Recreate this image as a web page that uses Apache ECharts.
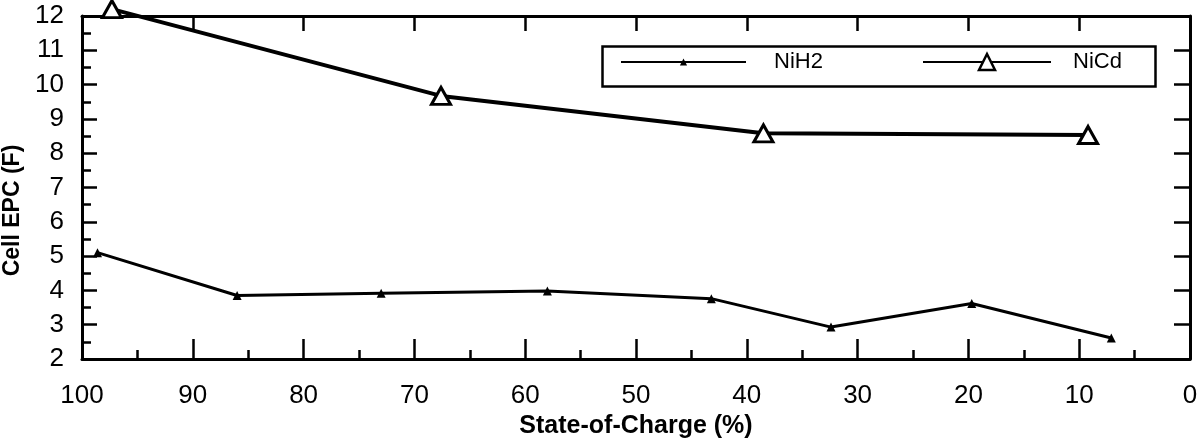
<!DOCTYPE html>
<html>
<head>
<meta charset="utf-8">
<script src="https://cdn.jsdelivr.net/npm/echarts@6/dist/echarts.min.js"></script>
<style>
  html, body { margin: 0; padding: 0; background: #fff; }
  #chart { width: 1204px; height: 443px; }
</style>
</head>
<body>
<div id="chart"></div>
<script>
// state of charge (%) / cell EPC (F)
const socNiH2 = [98.6, 86.0, 73.0, 58.0, 43.2, 32.4, 19.7, 7.1];
const epcNiH2 = [5.1, 3.85, 3.92, 3.98, 3.76, 2.93, 3.62, 2.61];
const socNiCd = [97.3, 67.6, 38.5, 9.2];
const epcNiCd = [12.2, 9.67, 8.58, 8.53];

const FONT = '"Liberation Sans", Arial, Helvetica, sans-serif';

const pairs = (xs, ys) => xs.map((x, i) => [x, ys[i]]);

const myChart = echarts.init(document.getElementById('chart'), null, { renderer: 'canvas' });

// every axis is a side of the box, none should jump to zero
const frameAxis = {
  axisLine: { show: true, onZero: false, lineStyle: { color: '#000', width: 3 } },
  splitLine: { show: false },
};
const tickLine = { color: '#000', width: 2.5 };

myChart.setOption({
  backgroundColor: '#fff',
  animation: false,
  grid: { left: 82, right: 14, top: 16, bottom: 84, outerBoundsMode: 'none' },
  xAxis: [
    {
      ...frameAxis,
      type: 'value', position: 'bottom', inverse: true,
      min: 0, max: 100, interval: 10,
      name: 'State-of-Charge (%)', nameLocation: 'middle', nameGap: 51,
      nameTextStyle: { fontFamily: FONT, fontWeight: 'bold', fontSize: 25, color: '#000' },
      axisTick: { show: true, inside: true, length: 20, lineStyle: tickLine },
      minorTick: { show: true, splitNumber: 2, length: 9, lineStyle: tickLine },
      axisLabel: { fontFamily: FONT, fontSize: 26, color: '#000', margin: 24, showMinLabel: true, showMaxLabel: true },
    },
    {
      ...frameAxis,
      type: 'value', position: 'top', inverse: true,
      min: 0, max: 100, interval: 10,
      axisTick: { show: true, inside: true, length: 15, lineStyle: tickLine },
      minorTick: { show: false },
      axisLabel: { show: false },
    },
  ],
  yAxis: [
    {
      ...frameAxis,
      type: 'value', position: 'left',
      min: 2, max: 12, interval: 1,
      name: 'Cell EPC (F)', nameLocation: 'middle', nameGap: 43, nameRotate: 90,
      nameTextStyle: { fontFamily: FONT, fontWeight: 'bold', fontSize: 23, color: '#000', padding: [0, 46, 0, 0] },
      axisTick: { show: true, inside: true, length: 15, lineStyle: tickLine },
      minorTick: { show: true, splitNumber: 2, length: 9, lineStyle: tickLine },
      axisLabel: { fontFamily: FONT, fontSize: 26, color: '#000', margin: 18 },
    },
    {
      ...frameAxis,
      type: 'value', position: 'right',
      min: 2, max: 12, interval: 1,
      axisTick: { show: true, inside: true, length: 16, lineStyle: tickLine },
      minorTick: { show: false },
      axisLabel: { show: false },
    },
  ],
  legend: [
    {
      data: ['NiH2'], left: 620, top: 51, padding: 0,
      itemWidth: 125, itemHeight: 9,
      lineStyle: { width: 2 },
      textStyle: { fontFamily: FONT, fontSize: 22, color: '#000', padding: [0, 0, 0, 23] },
    },
    {
      data: ['NiCd'], left: 922, top: 51, padding: 0,
      itemWidth: 128, itemHeight: 20,
      lineStyle: { width: 2 },
      itemStyle: { borderWidth: 2.5 },
      textStyle: { fontFamily: FONT, fontSize: 22, color: '#000', padding: [0, 0, 0, 17] },
    },
  ],
  graphic: [
    {
      type: 'rect', left: 600, top: 44, z: 1,
      shape: { width: 553, height: 40 },
      style: { fill: 'none', stroke: '#000', lineWidth: 2.5 },
    },
  ],
  series: [
    {
      name: 'NiH2', type: 'line', clip: false,
      data: pairs(socNiH2, epcNiH2),
      symbol: 'triangle', symbolSize: 9,
      lineStyle: { color: '#000', width: 3 },
      itemStyle: { color: '#000' },
      z: 3,
    },
    {
      name: 'NiCd', type: 'line', clip: false,
      data: pairs(socNiCd, epcNiCd),
      symbol: 'triangle', symbolSize: [19, 17],
      lineStyle: { color: '#000', width: 4 },
      itemStyle: { color: '#fff', borderColor: '#000', borderWidth: 3 },
      z: 3,
    },
  ],
});

window.addEventListener('resize', () => {
  myChart.resize();
});
</script>
</body>
</html>
